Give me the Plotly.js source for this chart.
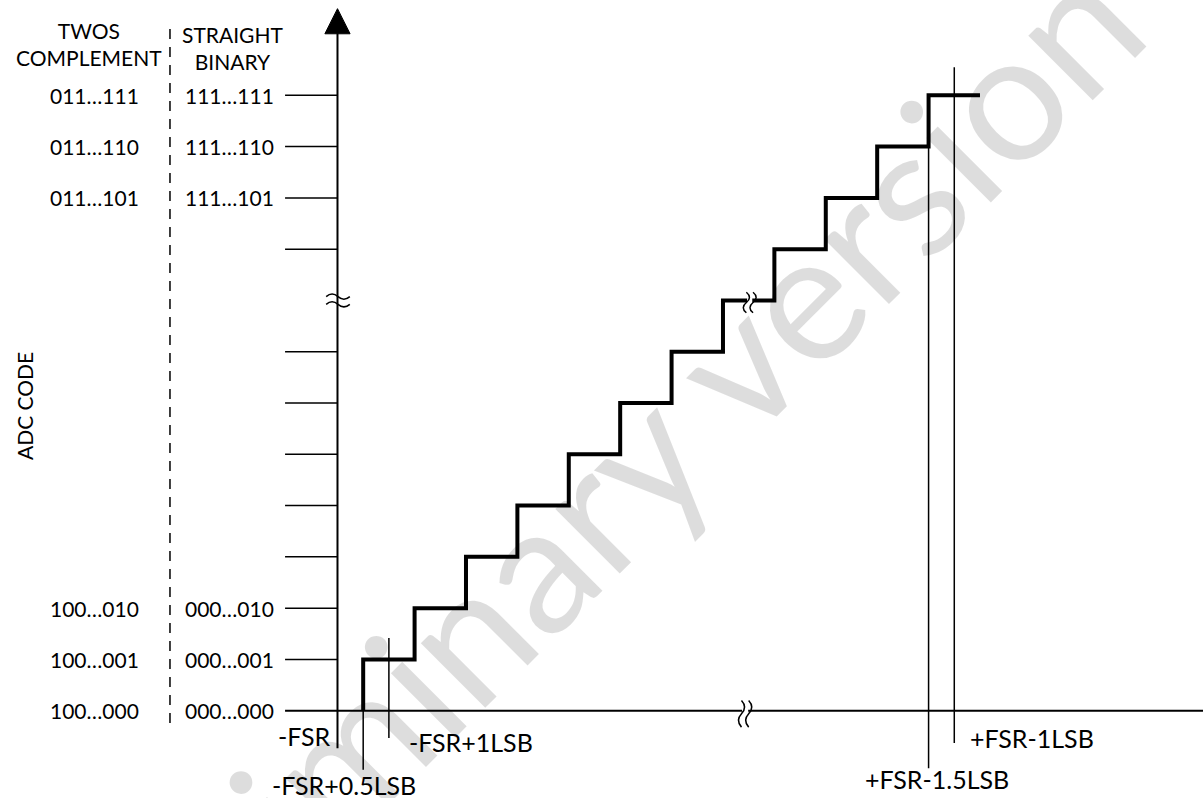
<!DOCTYPE html>
<html><head><meta charset="utf-8">
<script src="https://cdn.plot.ly/plotly-3.0.1.min.js"></script>
<style>html,body{margin:0;padding:0;background:#fff;}#chart{width:1203px;height:798px;}</style>
</head><body><div id="chart"></div>
<script>
// ---------------- data ----------------
const tickCodes = [1, 2, 3, 4, 5, 6, 7, 9, 10, 11, 12];
const labeledCodes = [0, 1, 2, 10, 11, 12];
const twosLabels = ['100…000', '100…001', '100…010', '011…101', '011…110', '011…111'];
const binaryLabels = ['000…000', '000…001', '000…010', '111…101', '111…110', '111…111'];
const transitionLSB = [0.5, 1.5, 2.5, 3.5, 4.5, 5.5, 6.5, 7.5, 8.5, 9.5, 10.5, 11.5];
const stepCodes = [1, 2, 3, 4, 5, 6, 7, 8, 9, 10, 11, 12];
const startCode = 0;
const lastInputLSB = 12.5;
const markerLSB = [0, 0.5, 1, 11.5, 12];
const markerLabels = ['-FSR', '-FSR+0.5LSB', '-FSR+1LSB', '+FSR-1.5LSB', '+FSR-1LSB'];
const yTitle = 'ADC CODE';
const twosHeader = 'TWOS<br>COMPLEMENT';
const binaryHeader = 'STRAIGHT<br>BINARY';
const watermark = 'Preliminary version';

// ---------------- layout geometry (styling, not data) ----------------
const FONT = 'Lato, "Open Sans", "DejaVu Sans", sans-serif';
const FS = 21;
const FS_MARK = 25;
const tickLeft = -1.02;
const twosX = -4.72, binaryX = -2.11, dashX = -3.259;
const breakCode = 8;
const breakLSB = 7.93;
// vertical extents [bottom, top] for marker lines (first is the y axis itself)
const markerSpan = [[-0.73, 13.21], [-1.15, 0], [-0.53, 1.42], [-1.12, 11], [-0.63, 12.55]];
// label placement for each marker
const markerLabelPos = [
  {dx: -0.09, y: -0.49, xa: 'right'},
  {dx: -0.37, y: -1.45, xa: 'center'},
  {dx: 0.35, y: -0.61, xa: 'left'},
  {dx: 0.17, y: -1.33, xa: 'center'},
  {dx: 0.27, y: -0.53, xa: 'left'}
];

const traces = [];
const black = '#000';

// tick marks on the code axis
const tx = [], ty = [];
tickCodes.forEach(c => { tx.push(tickLeft, 0, null); ty.push(c, c, null); });
traces.push({x: tx, y: ty, mode: 'lines', line: {color: black, width: 1.5}, hoverinfo: 'skip'});

// x axis
traces.push({x: [tickLeft, 17], y: [startCode, startCode], mode: 'lines', line: {color: black, width: 2}, hoverinfo: 'skip'});

// marker lines (first one is the y axis)
markerLSB.forEach((m, i) => {
  traces.push({x: [m, m], y: markerSpan[i], mode: 'lines',
    line: {color: black, width: i === 0 ? 2 : 1.5}, hoverinfo: 'skip'});
});

// dashed separator
traces.push({x: [dashX, dashX], y: [-0.24, 13.41], mode: 'lines',
  line: {color: black, width: 1.5, dash: '10px,8px'}, hoverinfo: 'skip'});

// staircase transfer function
traces.push({
  x: [transitionLSB[0]].concat(transitionLSB, [lastInputLSB]),
  y: [startCode].concat(stepCodes, [stepCodes[stepCodes.length - 1]]),
  mode: 'lines', line: {color: black, width: 4, shape: 'hv'}, hoverinfo: 'skip'
});

// ---------------- shapes ----------------
function sWave(u, k1, k2, a) {
  const mid = (k1 + k2) / 2;
  return `M ${u},${k1} Q ${u + a},${(k1 + mid) / 2} ${u},${mid} T ${u},${k2}`;
}
function tilde(k, u1, u2, a) {
  const mid = (u1 + u2) / 2;
  return `M ${u1},${k} Q ${(u1 + mid) / 2},${k + a} ${mid},${k} T ${u2},${k}`;
}
const shapes = [];
// arrow head
shapes.push({type: 'path', xref: 'x', yref: 'y', path: 'M -0.245,13.2 L 0,13.69 L 0.245,13.2 Z',
  fillcolor: black, line: {color: black, width: 1}, layer: 'above'});
// y axis break
[breakCode + 0.075, breakCode - 0.075].forEach(k => shapes.push({type: 'path', xref: 'x', yref: 'y',
  path: tilde(k, -0.22, 0.24, 0.1), line: {color: black, width: 1.5}, layer: 'above'}));
// x axis break
shapes.push({type: 'rect', xref: 'x', yref: 'y', x0: breakLSB - 0.06, x1: breakLSB + 0.06, y0: -0.06, y1: 0.06,
  fillcolor: '#fff', line: {width: 0}, layer: 'above'});
[breakLSB - 0.07, breakLSB + 0.07].forEach(u => shapes.push({type: 'path', xref: 'x', yref: 'y',
  path: sWave(u, 0.2, -0.32, 0.12), line: {color: black, width: 1.5}, layer: 'above'}));
// staircase break
const sb = breakLSB + 0.09;
shapes.push({type: 'rect', xref: 'x', yref: 'y', x0: sb - 0.05, x1: sb + 0.05, y0: breakCode - 0.06, y1: breakCode + 0.06,
  fillcolor: '#fff', line: {width: 0}, layer: 'above'});
[sb - 0.065, sb + 0.065].forEach(u => shapes.push({type: 'path', xref: 'x', yref: 'y',
  path: sWave(u, breakCode + 0.16, breakCode - 0.24, 0.12), line: {color: black, width: 1.5}, layer: 'above'}));

// ---------------- annotations ----------------
const ann = [];
ann.push({text: watermark, xref: 'paper', yref: 'paper', x: 0.478, y: 0.35, xanchor: 'center', yanchor: 'middle',
  textangle: -45, showarrow: false, font: {family: FONT, size: 180, color: 'rgba(0,0,0,0.135)'}});
function txt(t, x, y, opts, size) {
  return Object.assign({text: t, x: x, y: y, xref: 'x', yref: 'y', showarrow: false,
    xanchor: 'center', yanchor: 'middle', font: {family: FONT, size: size || FS, color: black}}, opts || {});
}
labeledCodes.forEach((c, i) => {
  ann.push(txt(twosLabels[i], twosX, c));
  ann.push(txt(binaryLabels[i], binaryX, c));
});
ann.push(txt(twosHeader, -4.83, 13.0));
ann.push(txt(binaryHeader, -2.05, 12.93));
markerLSB.forEach((m, i) => {
  const p = markerLabelPos[i];
  ann.push(txt(markerLabels[i], m + p.dx, p.y, {xanchor: p.xa}, FS_MARK));
});
ann.push(txt(yTitle, -6.1, 5.94, {textangle: -90}));

const layout = {
  width: 1203, height: 798,
  margin: {l: 0, r: 0, t: 0, b: 0, pad: 0},
  paper_bgcolor: '#fff', plot_bgcolor: '#fff',
  showlegend: false,
  xaxis: {range: [-6.566, 16.839], visible: false, showgrid: false, zeroline: false, fixedrange: true},
  yaxis: {range: [-1.702, 13.859], visible: false, showgrid: false, zeroline: false, fixedrange: true},
  shapes: shapes,
  annotations: ann,
  hovermode: false
};
Plotly.newPlot('chart', traces, layout, {staticPlot: true, displayModeBar: false});
</script>
</body></html>
